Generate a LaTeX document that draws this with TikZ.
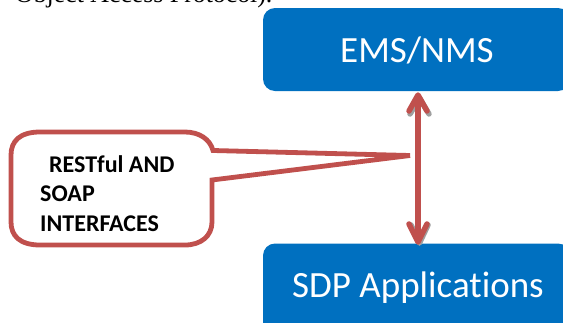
\documentclass[tikz,border=0pt]{standalone}
\usepackage{fontspec}
\setmainfont[Ligatures=NoCommon]{Carlito}
\newfontfamily\serifface{Liberation Serif}
\definecolor{boxblue}{HTML}{0070C0}
\definecolor{calloutred}{HTML}{C0504D}
\tikzset{
  bluebox/.style={fill=boxblue,draw=none,rounded corners=12pt},
  boxlabel/.style={text=white,font=\fontsize{37}{44}\selectfont,anchor=center,inner sep=0pt},
  calloutline/.style={draw=calloutred,line width=4.8pt,fill=white,line join=miter},
  calltext/.style={font=\fontsize{24}{29}\bfseries\selectfont,text=black,anchor=base west,inner sep=0pt},
  headshadow/.style={gray!75,line width=5.5pt,line cap=round,line join=round},
  headred/.style={calloutred,line width=5.5pt,line cap=round,line join=round},
}
\begin{document}
\begin{tikzpicture}[x=1pt,y=-1pt]
\useasboundingbox (0,0) rectangle (563,322);
\clip (0,0) rectangle (563,322);
\node[font=\serifface\fontsize{25.8}{30}\selectfont,anchor=base west,inner sep=0pt] (top) at (15,2.5) {Object Access Protocol).};
\fill[bluebox] (263,8) rectangle (570,91);
\fill[bluebox] (263,243.5) rectangle (570,340);
\node[boxlabel] (ems) at (417,50.5) {EMS/NMS};
\node[boxlabel] (sdp) at (418,288) {SDP Applications};
\coordinate (up) at (418,97);
\coordinate (dn) at (418,241);
% callout
\draw[calloutline] (213,150.5)
  .. controls (210,139) and (199,132) .. (185,132)
  -- (40,132) .. controls (20,132) and (11,141) .. (11,155)
  -- (11,222) .. controls (11,236) and (20,245) .. (40,245)
  -- (185,245) .. controls (201,245) and (212,236) .. (212,222)
  -- (212,180) -- (410,155.5) -- cycle;
% shadow heads
\draw[headshadow] (410,114)--(419.5,98)--(429,114);
\draw[headshadow] (411,225)--(419.5,243)--(428,225);
\draw[calloutred,line width=5.5pt] (up)--(dn);
\draw[headred] (409,111)--(418,95)--(427,111);
\draw[headred] (409,224)--(418,242)--(427,224);
\node[calltext] (t1) at (49,172) {RESTful AND};
\node[calltext] (t2) at (40,201) {SOAP};
\node[calltext] (t3) at (40,231) {INTERFACES};
\end{tikzpicture}
\end{document}
